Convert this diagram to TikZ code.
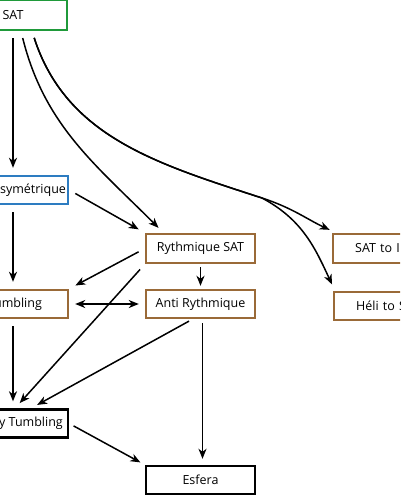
\documentclass[tikz,border=0pt]{standalone}
\usepackage{fontspec}
\setmainfont{Open Sans}
\usetikzlibrary{arrows.meta}
\definecolor{satgreen}{HTML}{1F9A3A}
\definecolor{asymblue}{HTML}{2D7CC1}
\definecolor{trickbrown}{HTML}{9A6A38}

\begin{document}
\begin{tikzpicture}[x=1pt, y=-1pt, font=\fontsize{12.5}{15}\selectfont,
  box/.style={draw, line width=2.4pt, minimum height=28, inner sep=0pt},
  cut/.style={box, anchor=west, text width=100, align=left, inner xsep=22},
  tip/.tip={Stealth[length=10pt, width=8pt, inset=3pt]},
  link/.style={-tip, line width=1.5pt, shorten <=7pt, shorten >=7pt}]
  \useasboundingbox (0,0) rectangle (400,496);
  \clip (0,0) rectangle (400,496);

  % left column (cut by the frame)
  \node[box, draw=satgreen, minimum width=108, minimum height=30] (sat) at (13,15) {SAT};
  \node[box, draw=asymblue, minimum width=70] (asym) at (33,190) {symétrique};
  \node[box, draw=trickbrown, minimum width=100] (umb) at (18,304) {umbling};
  \node[box, minimum width=74] (ytum) at (31,423.5) {y Tumbling};

  % middle column
  \node[box, draw=trickbrown, minimum width=109, minimum height=29] (rsat) at (200.5,248.5) {Rythmique SAT};
  \node[box, draw=trickbrown, minimum width=109] (anti) at (200.5,304) {Anti Rythmique};
  \node[box, minimum width=109] (esf) at (200.5,480) {Esfera};

  % right column (cut by the frame)
  \node[cut, draw=trickbrown, minimum height=29] (sati) at (332,248.5) {SAT to I};
  \node[cut, draw=trickbrown] (heli) at (333,306) {Héli to S};

  \coordinate (split) at (262,198);

  % straight down the left side
  \draw[link] (sat.south) -- (sat.south |- asym.north);
  \draw[link] (asym.south -| sat.south) -- (umb.north -| sat.south);
  \draw[link] (umb.south -| sat.south) -- (ytum.north -| sat.south);

  % from SAT
  \draw[link] ([xshift=8]sat.south) to[out=-76, in=135] ([xshift=-37]rsat.north);
  \draw[link] ([xshift=19]sat.south) to[out=-72, in=162] (split) to[out=-18, in=155] ([xshift=4]sati.north west);
  \draw[link] ([xshift=19]sat.south) to[out=-72, in=162] (split) to[out=-28, in=115] ([xshift=2]heli.north west);

  \draw[link] (asym.east) -- (rsat.north west);
  \draw[link] (rsat.west) -- (umb.north east);
  \draw[link, shorten <=3pt, shorten >=3pt] (rsat.south) -- (anti.north);
  \draw[link] (rsat.south west) -- ([xshift=-16]ytum.north);
  \draw[link, tip-tip, shorten <=6pt, shorten >=6pt] (umb.east) -- (anti.west);
  \draw[link, shorten <=4pt] ([xshift=-8]anti.south) -- (ytum.north);
  \draw[link, shorten <=4pt, shorten >=6pt] ([xshift=2]anti.south) -- ([xshift=2]esf.north);
  \draw[link, shorten <=5pt, shorten >=5pt] (ytum.east) -- (esf.north west);
\end{tikzpicture}
\end{document}
